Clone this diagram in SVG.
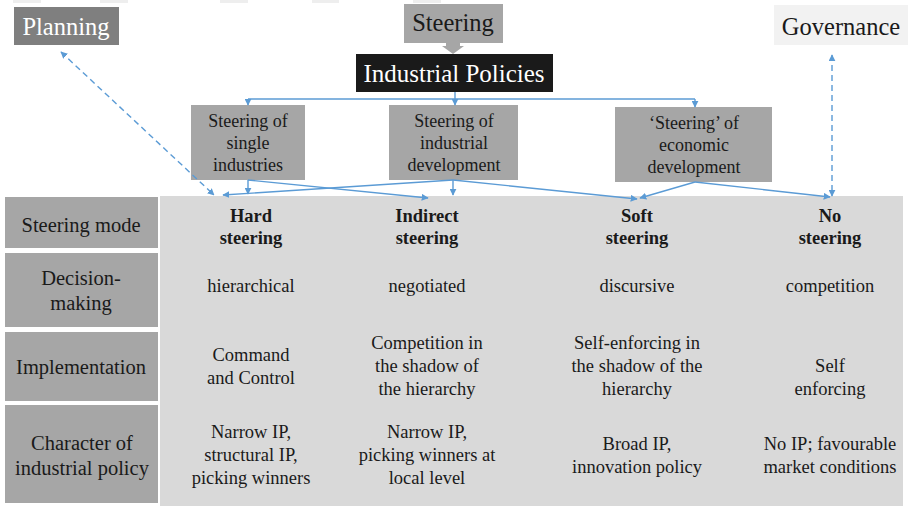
<svg xmlns="http://www.w3.org/2000/svg" width="909" height="506" viewBox="0 0 909 506">
  <defs>
    <marker id="arr" viewBox="0 0 10 10" refX="9" refY="5" markerWidth="7" markerHeight="7" markerUnits="userSpaceOnUse" orient="auto-start-reverse">
      <path d="M0,0 L10,5 L0,10 z" fill="#5b9bd5"/>
    </marker>
  </defs>

  <rect width="909" height="506" fill="#ffffff"/>

  <!-- faint strips along the top edge -->
  <g fill="#eeeeee">
    <rect x="13" y="0" width="28" height="3"/>
    <rect x="100" y="0" width="28" height="3"/>
    <rect x="220" y="0" width="28" height="3"/>
    <rect x="312" y="0" width="27" height="3"/>
    <rect x="413" y="0" width="28" height="3"/>
  </g>

  <!-- top labels -->
  <g font-family="Liberation Serif" font-size="24.5" text-anchor="middle" fill="#1a1a1a">
    <g id="planning">
      <rect x="14" y="7" width="105" height="38" fill="#7f7f7f"/>
      <text font-family="Liberation Serif" x="66" y="35" fill="#ffffff">Planning</text>
    </g>
    <g id="steering">
      <rect x="404" y="4" width="99" height="39" fill="#a6a6a6"/>
      <text font-family="Liberation Serif" x="453" y="31">Steering</text>
      <polygon points="446,43 460,43 460,46 464,46 453,54 442,46 446,46" fill="#a6a6a6"/>
    </g>
    <g id="governance">
      <rect x="774" y="5" width="134" height="40" fill="#f2f2f2"/>
      <text font-family="Liberation Serif" x="841" y="35">Governance</text>
    </g>
    <g id="industrial-policies">
      <rect x="356" y="54" width="197" height="38" fill="#1a1a1a"/>
      <text font-family="Liberation Serif" x="454" y="82" fill="#ffffff" font-size="25">Industrial Policies</text>
    </g>
  </g>

  <!-- steering types -->
  <g font-family="Liberation Serif" font-size="18" text-anchor="middle" fill="#1a1a1a">
    <g id="single-industries">
      <rect x="191" y="105" width="114" height="75" fill="#a6a6a6"/>
      <text font-family="Liberation Serif" x="248" y="127">Steering of</text>
      <text font-family="Liberation Serif" x="248" y="149">single</text>
      <text font-family="Liberation Serif" x="248" y="171">industries</text>
    </g>
    <g id="industrial-development">
      <rect x="389" y="105" width="129" height="75" fill="#a6a6a6"/>
      <text font-family="Liberation Serif" x="454" y="127">Steering of</text>
      <text font-family="Liberation Serif" x="454" y="149">industrial</text>
      <text font-family="Liberation Serif" x="454" y="171">development</text>
    </g>
    <g id="economic-development">
      <rect x="615" y="107" width="157" height="75" fill="#a6a6a6"/>
      <text font-family="Liberation Serif" x="694" y="129">&#8216;Steering&#8217; of</text>
      <text font-family="Liberation Serif" x="694" y="151">economic</text>
      <text font-family="Liberation Serif" x="694" y="173">development</text>
    </g>
  </g>

  <!-- table -->
  <g id="table" font-family="Liberation Serif" font-size="20.5" text-anchor="middle" fill="#1a1a1a">
    <rect x="160" y="196" width="743" height="310" fill="#d9d9d9"/>
    <g fill="#a6a6a6">
      <rect x="5" y="197" width="153" height="51"/>
      <rect x="5" y="253" width="153" height="74"/>
      <rect x="5" y="332" width="153" height="69"/>
      <rect x="5" y="405" width="153" height="98"/>
    </g>
    <text font-family="Liberation Serif" x="81" y="232">Steering mode</text>
    <text font-family="Liberation Serif" x="81" y="285">Decision-</text>
    <text font-family="Liberation Serif" x="81" y="310">making</text>
    <text font-family="Liberation Serif" x="81" y="374">Implementation</text>
    <text font-family="Liberation Serif" x="82" y="450">Character of</text>
    <text font-family="Liberation Serif" x="82" y="475">industrial policy</text>
  </g>

  <g font-family="Liberation Serif" font-size="18.5" text-anchor="middle" fill="#1a1a1a">
    <g id="hard-steering">
      <text font-family="Liberation Serif" font-weight="bold" x="251" y="222">Hard</text>
      <text font-family="Liberation Serif" font-weight="bold" x="251" y="244">steering</text>
      <text font-family="Liberation Serif" x="251" y="292">hierarchical</text>
      <text font-family="Liberation Serif" x="251" y="361">Command</text>
      <text font-family="Liberation Serif" x="251" y="384">and Control</text>
      <text font-family="Liberation Serif" x="251" y="438">Narrow IP,</text>
      <text font-family="Liberation Serif" x="251" y="461">structural IP,</text>
      <text font-family="Liberation Serif" x="251" y="484">picking winners</text>
    </g>
    <g id="indirect-steering">
      <text font-family="Liberation Serif" font-weight="bold" x="427" y="222">Indirect</text>
      <text font-family="Liberation Serif" font-weight="bold" x="427" y="244">steering</text>
      <text font-family="Liberation Serif" x="427" y="292">negotiated</text>
      <text font-family="Liberation Serif" x="427" y="349">Competition in</text>
      <text font-family="Liberation Serif" x="427" y="372">the shadow of</text>
      <text font-family="Liberation Serif" x="427" y="395">the hierarchy</text>
      <text font-family="Liberation Serif" x="427" y="438">Narrow IP,</text>
      <text font-family="Liberation Serif" x="427" y="461">picking winners at</text>
      <text font-family="Liberation Serif" x="427" y="484">local level</text>
    </g>
    <g id="soft-steering">
      <text font-family="Liberation Serif" font-weight="bold" x="637" y="222">Soft</text>
      <text font-family="Liberation Serif" font-weight="bold" x="637" y="244">steering</text>
      <text font-family="Liberation Serif" x="637" y="292">discursive</text>
      <text font-family="Liberation Serif" x="637" y="349">Self-enforcing in</text>
      <text font-family="Liberation Serif" x="637" y="372">the shadow of the</text>
      <text font-family="Liberation Serif" x="637" y="395">hierarchy</text>
      <text font-family="Liberation Serif" x="637" y="450">Broad IP,</text>
      <text font-family="Liberation Serif" x="637" y="473">innovation policy</text>
    </g>
    <g id="no-steering">
      <text font-family="Liberation Serif" font-weight="bold" x="830" y="222">No</text>
      <text font-family="Liberation Serif" font-weight="bold" x="830" y="244">steering</text>
      <text font-family="Liberation Serif" x="830" y="292">competition</text>
      <text font-family="Liberation Serif" x="830" y="372">Self</text>
      <text font-family="Liberation Serif" x="830" y="395">enforcing</text>
      <text font-family="Liberation Serif" x="830" y="450">No IP; favourable</text>
      <text font-family="Liberation Serif" x="830" y="473">market conditions</text>
    </g>
  </g>

  <!-- connectors -->
  <g id="connectors" fill="none" stroke="#5b9bd5" stroke-width="1.4">
    <path d="M455,92 V99"/>
    <path d="M248,99 H695"/>
    <path d="M248,99 V105" marker-end="url(#arr)"/>
    <path d="M455,99 V105" marker-end="url(#arr)"/>
    <path d="M695,99 V107" marker-end="url(#arr)"/>

    <path d="M248,180 V194" marker-end="url(#arr)"/>
    <path d="M248,180 L428,198" marker-end="url(#arr)"/>
    <path d="M453,180 V195" marker-end="url(#arr)"/>
    <path d="M453,180 L223,195" marker-end="url(#arr)"/>
    <path d="M453,180 L637,199" marker-end="url(#arr)"/>
    <path d="M695,182 L640,198" marker-end="url(#arr)"/>
    <path d="M695,182 L830,197" marker-end="url(#arr)"/>

    <g stroke-dasharray="6 4">
      <path d="M61,52 L214,195" marker-start="url(#arr)" marker-end="url(#arr)"/>
      <path d="M832,55 V196" marker-start="url(#arr)" marker-end="url(#arr)"/>
    </g>
  </g>
</svg>
